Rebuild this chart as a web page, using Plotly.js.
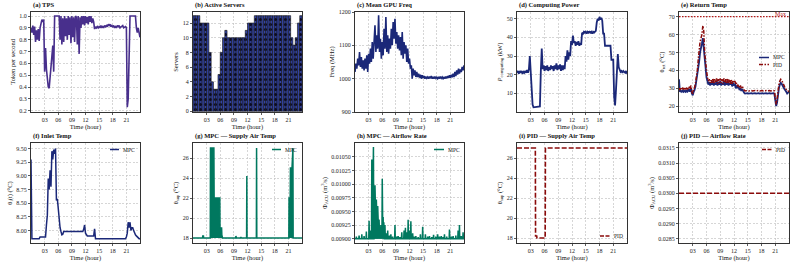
<!DOCTYPE html>
<html>
<head>
<meta charset="utf-8">
<script src="https://cdn.plot.ly/plotly-3.0.1.min.js"></script>
<style>html,body{margin:0;padding:0;background:#fff;}#chart{width:793px;height:262px;}</style>
</head>
<body>
<div id="chart"></div>
<script>
// ---------- DATA ----------
const T = [
0,0.2,0.4,0.6,0.8,1,1.2,1.4,1.6,1.8,
2,2.2,2.4,2.6,2.8,3,3.2,3.4,3.6,3.8,
4,4.2,4.4,4.6,4.8,5,5.2,5.4,5.6,5.8,
6,6.2,6.4,6.6,6.8,7,7.2,7.4,7.6,7.8,
8,8.2,8.4,8.6,8.8,9,9.2,9.4,9.6,9.8,
10,10.2,10.4,10.6,10.8,11,11.2,11.4,11.6,11.8,
12,12.2,12.4,12.6,12.8,13,13.2,13.4,13.6,13.8,
14,14.2,14.4,14.6,14.8,15,15.2,15.4,15.6,15.8,
16,16.2,16.4,16.6,16.8,17,17.2,17.4,17.6,17.8,
18,18.2,18.4,18.6,18.8,19,19.2,19.4,19.6,19.8,
20,20.2,20.4,20.6,20.8,21,21.2,21.4,21.6,21.8,
22,22.2,22.4,22.6,22.8,23,23.2,23.4,23.6,23.8,
24];

const tps = [
0.90,0.86,0.92,0.84,0.91,0.78,0.88,0.80,0.89,0.79,
0.90,0.93,0.97,0.95,0.97,0.53,0.73,0.55,0.45,0.40,
0.39,0.48,0.58,0.72,0.75,0.53,1.00,1.00,1.00,1.00,
1.00,1.00,0.80,1.00,0.76,0.98,0.78,1.00,0.83,0.98,
0.80,1.00,0.84,0.99,0.77,1.00,0.82,0.99,0.78,1.00,
0.99,0.76,1.00,0.68,0.99,0.90,1.00,0.93,1.00,0.92,
1.00,0.94,0.99,0.93,1.00,0.95,1.00,0.94,0.98,0.95,
0.89,0.91,0.90,0.91,0.90,0.91,0.90,0.92,0.90,0.91,
0.90,0.92,0.91,0.92,0.91,0.93,0.92,0.93,0.91,0.92,
0.91,0.92,0.90,0.91,0.90,0.92,0.91,0.92,0.90,0.91,
0.91,0.92,0.90,0.91,0.91,0.90,0.23,0.30,0.88,1.00,
1.00,1.00,1.00,1.00,1.00,1.00,0.90,0.86,0.90,0.84,
0.82];

const serverStart = [
0,0.5,1,1.5,2,2.5,3,3.5,4,4.5,5,5.5,6,6.5,7,7.5,8,8.5,9,9.5,10,10.5,11,11.5,
12,12.5,13,13.5,14,14.5,15,15.5,16,16.5,17,17.5,18,18.5,19,19.5,20,20.5,21,21.5,22,22.5,23,23.5];
const servers = [
13,13,13,12,12,12,12,8,4,3,3,5,8,10,11,10,10,10,10,10,10,10,10,11,
12,12,12,13,13,13,13,13,13,13,13,13,13,13,13,13,13,13,13,10,9,10,12,13];

const gpuFreq = [
1020,1045,1030,1060,1040,1080,1035,1065,1030,1055,
1025,1060,1030,1070,1020,1075,1045,1090,1050,1110,
1060,1120,1160,1080,1130,1090,1190,1080,1120,1060,
1110,1070,1150,1090,1185,1080,1130,1075,1120,1090,
1150,1100,1170,1120,1180,1105,1140,1090,1130,1085,
1125,1070,1140,1060,1110,1075,1100,1050,1090,1045,
1060,1030,1040,1000,1030,1010,1025,1005,1020,1005,
1015,1003,1012,1000,1010,1002,1008,1000,1006,1001,
1005,1000,1006,1001,1008,1000,1005,1000,1006,1001,
1004,1000,1005,1000,1006,1001,1005,1000,1004,1000,
1006,1001,1008,1002,1010,1003,1012,1004,1015,1005,
1020,1008,1025,1012,1030,1015,1028,1020,1035,1025,
1040];

const power = [
21,22,20.5,22,21,22,20.5,21.5,21,22,
21,22.5,21,23,30,22,10,4,2.5,2.6,
2.5,2.7,2.5,2.6,2.8,3,22,34,23,25,
22,24.5,22.5,25,22,24,22.5,25,23,24.5,
22,25,23,26,22.5,25,23,25.5,22,25,
22.5,25,23,30,27,33,28,32,30,38,
36,41,37,38,35.5,37.5,36,38,35.5,37,
36,42.5,42,43,42.5,43,42,43,42.5,43,
42.5,43,42,43,42.5,43,43.5,48,50,49,
51,49.5,50.5,49,42,42,35.5,35.5,35.5,35.5,
35.5,35.5,35.5,28,28,28,8,3.5,12,22,
31,24,22,21.5,22,21,22,21.5,21,22,
20.5];

const retMPC = [
35,28,28.5,28,29,28,28.5,28,29,28,
28.5,29.5,28,30,27,26,28,29,31,34,
38,42,45,50,52,55,58,52,45,40,
36,34,32,33.5,31.5,33,32,34,31.5,33,
32,34,31.5,33.5,32,34,31.5,33,32,34,
31.5,33.5,32,34,31.5,33,32,33.5,31,33,
31.5,32.5,30,31.5,30,31,29,30,28.5,29.5,
28,27.5,27,27.2,27,27.2,27,27.2,27,27.2,
27,27.2,27,27.2,27,27.2,27,27.2,27,27.2,
27,27.2,27,27.2,27,27.2,27,27.2,27,27.2,
27,27.2,27,27.2,27,24,20,22,28,30,
32,33,32.5,31,30.5,29.5,29,28,27,27.5,
28];

const retPID = [
30,29,30.5,29,30,29.5,30.5,29,30,29.5,
30,31,29.5,31.5,28,27,29.5,30.5,33,36,
40,46,52,56,58,60,65,62,50,43,
40,36,34,35,33,34.5,33,35.5,32.5,35,
33,35.5,32.5,35,33,35.5,33,35,32.5,35.5,
33,35,32.5,35.5,33,35,32.5,35,32.5,34.5,
33,34,32,33,31,32,30.5,31.5,30,31,
29.5,29,28.5,28.7,28.5,28.7,28.5,28.7,28.5,28.7,
28.5,28.7,28.5,28.7,28.5,28.7,28.5,28.7,28.5,28.7,
28.5,28.7,28.5,28.7,28.5,28.7,28.5,28.7,28.5,28.7,
28.5,28.7,28.5,28.7,28.5,25,21,24,30,32,
34,35,34.5,33,32,31,30,29,28.5,28.5,
28];

const maxT = [0, 24];
const maxRet = [70, 70];

const inletMPC = [
9.30,7.85,7.85,7.85,7.85,7.85,7.85,7.85,7.85,7.85,
7.88,7.88,7.88,7.88,7.88,7.88,7.88,8.10,8.28,8.95,
8.75,9.10,8.80,9.45,9.30,9.48,9.40,9.50,8.55,8.58,
8.40,8.10,8.05,7.98,7.92,7.93,7.98,7.98,7.98,7.98,
7.98,7.98,7.98,7.98,7.98,7.98,7.98,7.98,7.98,7.98,
7.98,7.98,7.98,7.98,7.98,7.98,7.98,7.98,8.02,8.10,
7.95,7.92,7.90,7.90,7.90,7.90,7.90,7.90,7.90,7.90,
8.03,7.85,7.85,7.85,7.85,7.85,7.85,7.85,7.85,7.85,
7.85,7.85,7.85,7.85,7.85,7.85,7.85,7.85,7.85,7.85,
7.85,7.85,7.85,7.85,7.85,7.85,7.85,7.85,7.85,7.85,
7.85,7.85,7.85,7.85,7.85,7.88,7.95,8.15,8.05,8.15,
8.00,8.05,8.05,8.00,7.95,7.92,7.90,7.88,7.87,7.85,
7.85];

const supMPC_T = [0,2.1,2.15,2.3,2.35,3.8,3.85,4.6,4.65,5.9,5.95,6.3,6.35,6.5,9.4,9.45,9.55,10.5,10.55,10.65,11.8,11.85,11.9,13.95,14.0,14.05,21.1,21.15,21.4,21.45,21.8,21.85,22.0,22.05,24];
const supMPC   = [18,18,18.2,18.2,18,18,27,27,22,22,19,19,18.3,18,18,18.2,18,18,18.1,18,18,24.2,18,18,27,18,18,22,22,25,25,27,27,18,18];
const supBaseT = [0, 24];
const supBase  = [18, 18];

const airSpikeT = [0.3,0.9,1.5,2.0,2.5,3.1,3.4,3.7,3.9,4.06,4.25,4.4,4.55,4.7,4.85,5.0,5.15,5.3,5.5,5.7,6.0,6.2,6.35,6.6,6.9,7.2,7.6,7.9,8.3,8.8,9.2,9.5,9.9,10.3,10.8,11.1,11.4,11.7,12.0,12.3,12.7,13.0,13.4,13.9,14.4,14.9,15.5,16.0,16.4,16.9,17.3,17.8,18.2,18.6,19.0,19.4,19.7,20.2,20.8,21.2,21.6,22.2,22.7,23.0,23.4,23.8];
const airSpike  = [0.00904,0.00906,0.00908,0.00905,0.00913,0.00933,0.00915,0.01045,0.00990,0.01068,0.00960,0.00998,0.00950,0.00972,0.00940,0.00960,0.00930,0.00935,0.00920,0.00925,0.01010,0.00940,0.00930,0.00925,0.00910,0.00915,0.00906,0.00908,0.00904,0.00925,0.00904,0.00905,0.00903,0.00912,0.00915,0.00920,0.00912,0.00935,0.00915,0.00932,0.00910,0.00904,0.00905,0.00903,0.00908,0.00922,0.00908,0.00904,0.00905,0.00903,0.00907,0.00904,0.00908,0.00904,0.00905,0.00903,0.00908,0.00904,0.00917,0.00904,0.00905,0.00906,0.00915,0.00925,0.00905,0.00912];
const airBase = 0.00900;

const supPID_T = [0,4.0,4.05,4.3,4.35,6.15,6.2,24];
const supPID   = [27,27,18.2,18.2,18,18,27,27];

const airPID_T = [0, 24];
const airPID   = [0.03, 0.03];

const tickHours = [3,6,9,12,15,18,21];
const tickHourText = ["03","06","09","12","15","18","21"];

// ---------- STYLE ----------
const FONT = "Liberation Serif, Times New Roman, serif";
const PURPLE = "#482f8c", NAVY = "#1b2878", RED = "#8b0b0b", TEAL = "#00785f", BARBLUE = "#3343a2";
const W = 793, H = 262;
const cols = [[31,140],[193,302],[355,464],[517,627],[679,789]];
const rows = [[12,112],[143,243]];

// spike polygon for airflow readings (base points around each reading)
const airX = [0], airY = [airBase];
airSpikeT.forEach((t,i)=>{ airX.push(t-0.07, t, t+0.07); airY.push(airBase, airSpike[i], airBase); });
airX.push(24); airY.push(airBase);

const traces = [
  {x:T, y:tps, xaxis:'x', yaxis:'y', mode:'lines', line:{color:PURPLE,width:1.6}, name:'TPS'},
  {x:serverStart, y:servers, xaxis:'x2', yaxis:'y2', type:'bar', width:0.5, offset:0,
   marker:{color:BARBLUE, line:{color:'#111',width:0.6}, pattern:{shape:'.', fgcolor:'#0a0a2a', bgcolor:BARBLUE, size:5, solidity:0.3}}, name:'Servers'},
  {x:T, y:gpuFreq, xaxis:'x3', yaxis:'y3', mode:'lines', line:{color:NAVY,width:1.6}, name:'Freq'},
  {x:T, y:power, xaxis:'x4', yaxis:'y4', mode:'lines', line:{color:NAVY,width:1.8}, name:'Power'},
  {x:maxT, y:maxRet, xaxis:'x5', yaxis:'y5', mode:'lines', line:{color:'#b51a1a',width:1.2,dash:'1.5px,1.5px'}, name:'Max'},
  {x:T, y:retMPC, xaxis:'x5', yaxis:'y5', mode:'lines', line:{color:NAVY,width:1.8}, name:'MPC'},
  {x:T, y:retPID, xaxis:'x5', yaxis:'y5', mode:'lines', line:{color:RED,width:1.5,dash:'4px,1.5px,1.5px,1.5px'}, name:'PID'},
  {x:T, y:inletMPC, xaxis:'x6', yaxis:'y6', mode:'lines', line:{color:NAVY,width:1.5}, name:'MPC'},
  {x:supBaseT, y:supBase, xaxis:'x7', yaxis:'y7', mode:'lines', line:{color:TEAL,width:0}, hoverinfo:'skip'},
  {x:supMPC_T, y:supMPC, xaxis:'x7', yaxis:'y7', mode:'lines', fill:'tonexty', fillcolor:TEAL, line:{color:TEAL,width:1.5}, name:'MPC'},
  {x:[0,24], y:[airBase,airBase], xaxis:'x8', yaxis:'y8', mode:'lines', line:{color:TEAL,width:0}, hoverinfo:'skip'},
  {x:airX, y:airY, xaxis:'x8', yaxis:'y8', mode:'lines', fill:'tonexty', fillcolor:TEAL, line:{color:TEAL,width:1.5}, name:'MPC'},
  {x:supPID_T, y:supPID, xaxis:'x9', yaxis:'y9', mode:'lines', line:{color:RED,width:1.6,dash:'5px,2px'}, name:'PID'},
  {x:airPID_T, y:airPID, xaxis:'x10', yaxis:'y10', mode:'lines', line:{color:RED,width:1.6,dash:'5px,2px'}, name:'PID'}
];

const panels = [
  {title:'(a) TPS', ylab:'Token per second', range:[0.189,1.034], tickvals:[0.2,0.3,0.4,0.5,0.6,0.7,0.8,0.9,1.0], fmt:'.1f'},
  {title:'(b) Active Servers', ylab:'Servers', range:[-0.1,13.5], tickvals:[0,2,4,6,8,10,12], fmt:'d'},
  {title:'(c) Mean GPU Freq', ylab:'Freq (MHz)', range:[900,1200], tickvals:[900,1000,1100,1200], fmt:'d'},
  {title:'(d) Computing Power', ylab:'<i>P</i><sub>computing</sub> (kW)', range:[0,53.6], tickvals:[10,20,30,40,50], fmt:'d'},
  {title:'(e) Return Temp', ylab:'θ<sub>ret</sub> (°C)', range:[16.7,72.6], tickvals:[20,30,40,50,60,70], fmt:'d'},
  {title:'(f) Inlet Temp', ylab:'θ<sub>i</sub>(t) (°C)', range:[7.77,9.6], tickvals:[8.0,8.25,8.5,8.75,9.0,9.25,9.5], fmt:'.2f'},
  {title:'(g) MPC — Supply Air Temp', ylab:'θ<sub>sup</sub> (°C)', range:[17.5,27.5], tickvals:[18,20,22,24,26], fmt:'d'},
  {title:'(h) MPC — Airflow Rate', ylab:'Φ<sub>ACU</sub> (m<sup>3</sup>/s)', range:[0.008922,0.010754], tickvals:[0.009,0.00925,0.0095,0.00975,0.01,0.01025,0.0105], fmt:'.5f'},
  {title:'(i) PID — Supply Air Temp', ylab:'θ<sub>sup</sub> (°C)', range:[17.5,27.5], tickvals:[18,20,22,24,26], fmt:'d'},
  {title:'(j) PID — Airflow Rate', ylab:'Φ<sub>ACU</sub> (m<sup>3</sup>/s)', range:[0.02836,0.03166], tickvals:[0.0285,0.029,0.0295,0.03,0.0305,0.031,0.0315], fmt:'.4f'}
];

const layout = {
  width:W, height:H, margin:{l:0,r:0,t:0,b:0},
  paper_bgcolor:'#fff', plot_bgcolor:'#fff', showlegend:false,
  font:{family:FONT, size:6, color:'#222'},
  bargap:0, annotations:[], shapes:[]
};

panels.forEach((p,i)=>{
  const r = Math.floor(i/5), c = i%5, n = i+1;
  const xd = [cols[c][0]/W, cols[c][1]/W];
  const yd = [1-rows[r][1]/H, 1-rows[r][0]/H];
  const common = {showgrid:true, gridcolor:'#c4c4c4', griddash:'2px,1.5px', gridwidth:0.7,
    showline:true, mirror:true, linecolor:'#333', linewidth:1, zeroline:false,
    ticks:'outside', ticklen:2, tickwidth:0.8, tickcolor:'#333', tickfont:{family:FONT,size:6,color:'#222'}};
  layout['xaxis'+(n===1?'':n)] = Object.assign({}, common, {domain:xd, anchor:'y'+(n===1?'':n), range:[0,24],
    tickmode:'array', tickvals:tickHours, ticktext:tickHourText,
    title:{text:'Time (hour)', font:{family:FONT,size:6.5,color:'#111'}, standoff:2}});
  layout['yaxis'+(n===1?'':n)] = Object.assign({}, common, {domain:yd, anchor:'x'+(n===1?'':n), range:p.range,
    tickmode:'array', tickvals:p.tickvals, tickformat:p.fmt,
    title:{text:p.ylab, font:{family:FONT,size:6.5,color:'#111'}, standoff:3}});
  layout.annotations.push({xref:'paper', yref:'paper', x:xd[0], y:yd[1], xanchor:'left', yanchor:'bottom', yshift:1,
    showarrow:false, text:'<b>'+p.title+'</b>', font:{family:FONT,size:6.5,color:'#111'}});
});

// Max label
layout.annotations.push({xref:'x5 domain', yref:'y5', x:1, y:70, xanchor:'right', yanchor:'bottom', yshift:-2, xshift:-1,
  showarrow:false, text:'Max', font:{family:FONT,size:6,color:'#b51a1a'}});

// manual legends (pixel positions)
const legends = [
  {x0:759,x1:769,y:57.5,color:NAVY,dash:'solid',text:'MPC'},
  {x0:759,x1:769,y:64.5,color:RED,dash:'4px,1.5px,1.5px,1.5px',text:'PID'},
  {x0:110,x1:119,y:149.5,color:NAVY,dash:'solid',text:'MPC'},
  {x0:272,x1:281,y:149.5,color:TEAL,dash:'solid',text:'MPC'},
  {x0:434,x1:444,y:149.5,color:TEAL,dash:'solid',text:'MPC'},
  {x0:600,x1:610,y:236,color:RED,dash:'4px,1.5px',text:'PID'},
  {x0:762,x1:772,y:149.5,color:RED,dash:'4px,1.5px',text:'PID'}
];
legends.forEach(l=>{
  layout.shapes.push({type:'line', xref:'paper', yref:'paper', x0:l.x0/W, x1:l.x1/W, y0:1-l.y/H, y1:1-l.y/H,
    line:{color:l.color, width:1.5, dash:l.dash}});
  layout.annotations.push({xref:'paper', yref:'paper', x:(l.x1+2)/W, y:1-l.y/H, xanchor:'left', yanchor:'middle',
    showarrow:false, text:l.text, font:{family:FONT,size:5.5,color:'#111'}});
});

Plotly.newPlot('chart', traces, layout, {staticPlot:true, displayModeBar:false});
</script>
</body>
</html>
